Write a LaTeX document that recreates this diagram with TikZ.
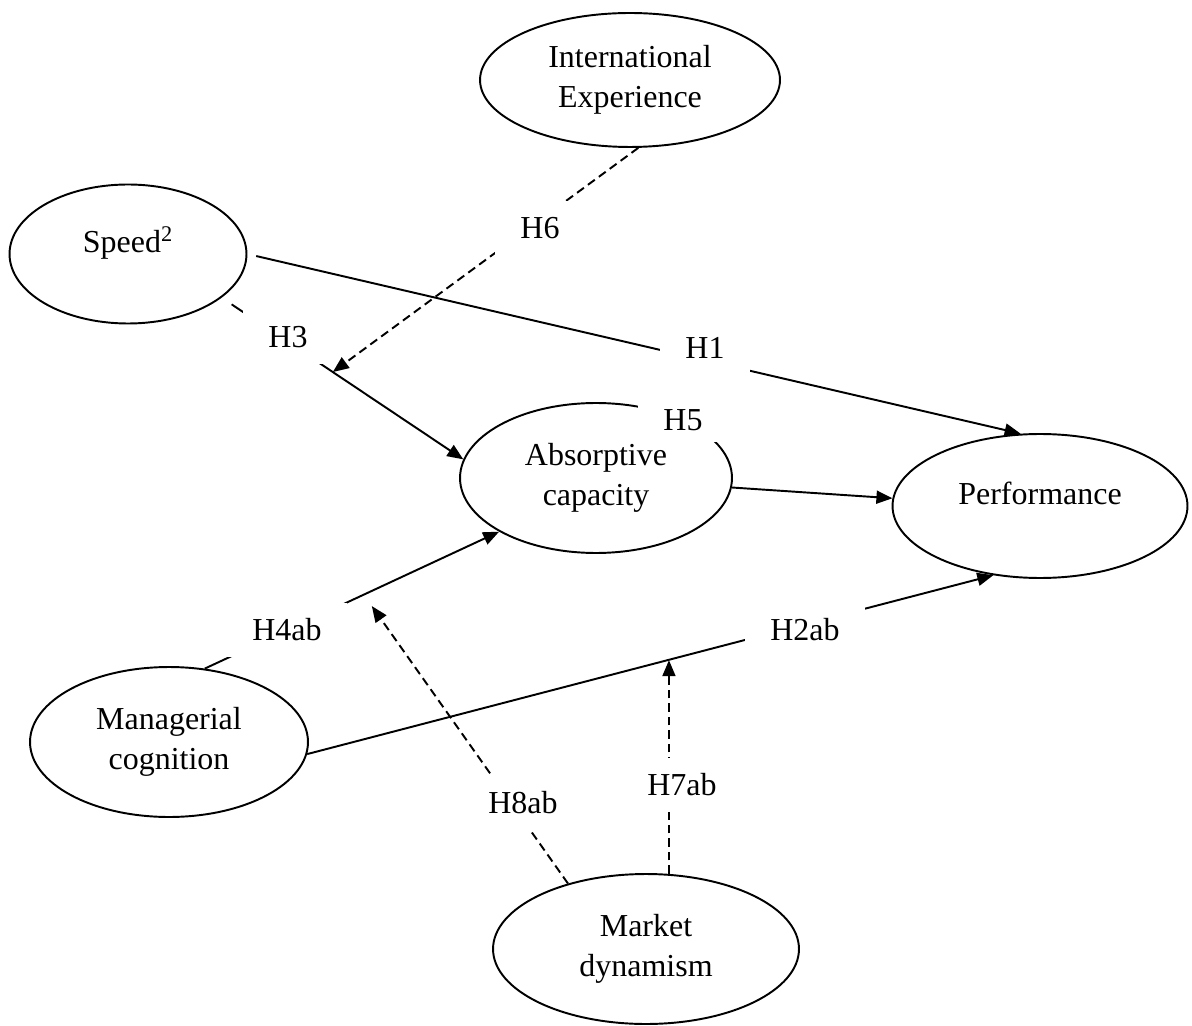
\documentclass[tikz,border=0pt]{standalone}
\usepackage{fontspec}
\setmainfont{Liberation Serif}
\usetikzlibrary{arrows.meta,shapes.geometric}
\begin{document}
\begin{tikzpicture}[x=0.02cm, y=-0.02cm, line width=1.1pt,
    construct/.style={draw, ellipse, inner sep=0pt, align=center, font=\fontsize{18.2}{22.8}\selectfont},
    hyp/.style={fill=white, inner xsep=0.5cm, minimum height=1.08cm, font=\fontsize{18.2}{22.8}\selectfont},
    effect/.style={-{Triangle[length=0.32cm, width=0.26cm]}},
    moder/.style={effect, dash pattern=on 0.17cm off 0.1cm}]
    \useasboundingbox (0,0) rectangle (1192,1026);
    \node [construct, minimum width=6cm, minimum height=2.68cm] (intexp) at (630,80) {International\\Experience};
    \node [construct, minimum width=4.74cm, minimum height=2.78cm, text depth=0.58cm] (speed) at (128,254) {Speed\textsuperscript{2}};
    \node [construct, minimum width=5.44cm, minimum height=3cm] (absorb) at (596,478) {Absorptive\\capacity};
    \node [construct, minimum width=5.9cm, minimum height=2.88cm, text depth=0.52cm] (perf) at (1040,506) {Performance};
    \node [construct, minimum width=5.56cm, minimum height=3cm] (manag) at (169,742) {Managerial\\cognition};
    \node [construct, minimum width=6.12cm, minimum height=3cm] (market) at (646,949) {Market\\dynamism};
    \draw [effect, shorten <=0.18cm] (speed.east) -- (perf.105);
    \draw [effect, shorten <=0.24cm] (speed.-25) -- coordinate[pos=.46] (h3m) (absorb.172);
    \draw [effect] (absorb.-4) -- (perf.177);
    \draw [effect] (manag.64) -- coordinate[pos=.54] (h4m) (absorb.209);
    \draw [effect] (manag.-5) -- coordinate[pos=.525] (h2m) (perf.-124);
    \draw [moder] (intexp.-83) -- (h3m);
    \draw [moder] (market.73) -- (market.73 |- h2m);
    \draw [moder, shorten >=0.28cm] (market.140) -- (h4m);
    \node [hyp] (h1) at (705,348) {H1};
    \node [hyp] (h3) at (288,337) {H3};
    \node [hyp] (h6) at (540,228) {H6};
    \node [hyp, minimum height=0.88cm] (h5) at (683,420) {H5};
    \node [hyp] (h4) at (287,630) {H4ab};
    \node [hyp] (h2) at (805,630) {H2ab};
    \node [hyp] (h7) at (682,785) {H7ab};
    \node [hyp] (h8) at (523,803) {H8ab};
\end{tikzpicture}
\end{document}
